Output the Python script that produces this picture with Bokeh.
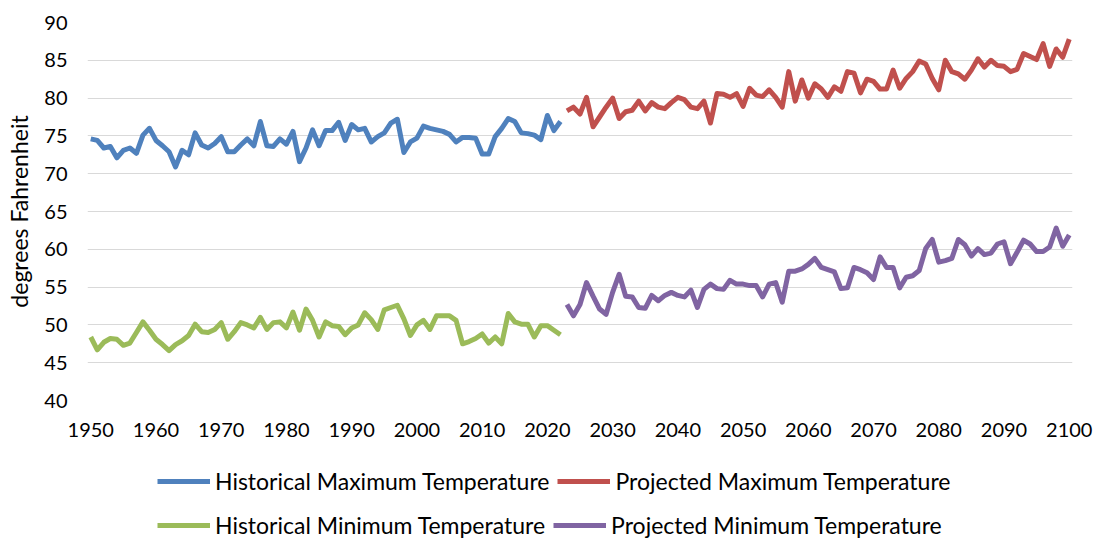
from bokeh.plotting import figure
from bokeh.models import Legend, LegendItem, FixedTicker, Range1d
from bokeh.layouts import column
from bokeh.embed import file_html
from bokeh.resources import INLINE

FONT = "Lato"
TICK_FS = "20px"
TEXT_FS = "23px"

years_hist = list(range(1950, 2023))
years_proj = list(range(2023, 2101))

hist_max = [
    74.6, 74.4, 73.4, 73.6, 72.1, 73.1, 73.4, 72.7, 75.1, 76.0,
    74.4, 73.7, 72.9, 70.9, 73.1, 72.5, 75.4, 73.8, 73.4, 74.0,
    74.9, 72.9, 72.9, 73.8, 74.6, 73.7, 76.9, 73.7, 73.6, 74.6,
    73.9, 75.6, 71.6, 73.4, 75.8, 73.7, 75.7, 75.7, 76.8, 74.4,
    76.5, 75.8, 76.0, 74.2, 74.9, 75.4, 76.7, 77.2, 72.8, 74.2,
    74.7, 76.3, 76.0, 75.8, 75.6, 75.2, 74.2, 74.8, 74.8, 74.7,
    72.6, 72.6, 74.9, 76.0, 77.3, 76.9, 75.4, 75.3, 75.1, 74.5,
    77.7, 75.7, 76.9,
]

hist_min = [
    48.4, 46.7, 47.7, 48.2, 48.1, 47.3, 47.6, 49.0, 50.4, 49.3,
    48.1, 47.4, 46.6, 47.4, 47.9, 48.6, 50.1, 49.1, 49.0, 49.4,
    50.3, 48.1, 49.1, 50.3, 50.0, 49.6, 51.0, 49.4, 50.3, 50.4,
    49.6, 51.7, 49.3, 52.1, 50.6, 48.4, 50.4, 49.9, 49.8, 48.7,
    49.6, 50.0, 51.6, 50.7, 49.4, 52.0, 52.3, 52.6, 50.8, 48.6,
    50.0, 50.6, 49.4, 51.2, 51.2, 51.2, 50.6, 47.5, 47.8, 48.2,
    48.8, 47.6, 48.4, 47.5, 51.5, 50.4, 50.1, 50.1, 48.4, 49.9,
    49.9, 49.3, 48.7,
]

proj_max = [
    78.3, 78.8, 77.9, 80.1, 76.2, 77.5, 78.8,
    80.0, 77.3, 78.2, 78.4, 79.6, 78.3, 79.4, 78.8, 78.6, 79.4,
    80.1, 79.8, 78.8, 78.6, 79.6, 76.7, 80.6, 80.5, 80.1, 80.6,
    78.9, 81.3, 80.4, 80.2, 81.1, 80.1, 78.8, 83.5, 79.6, 82.4,
    80.0, 81.9, 81.2, 80.1, 81.5, 80.9, 83.5, 83.3, 80.7, 82.5,
    82.2, 81.2, 81.2, 83.7, 81.3, 82.6, 83.5, 84.9, 84.5, 82.6,
    81.1, 85.0, 83.5, 83.2, 82.5, 83.7, 85.2, 84.1, 85.0, 84.3,
    84.2, 83.5, 83.8, 85.9, 85.5, 85.1, 87.2, 84.2, 86.5, 85.4,
    87.8,
]

proj_min = [
    52.7, 51.2, 52.7, 55.6, 53.8, 52.1, 51.4,
    54.3, 56.7, 53.8, 53.7, 52.3, 52.2, 53.9, 53.2, 53.9, 54.3,
    53.9, 53.7, 54.6, 52.3, 54.7, 55.4, 54.8, 54.7, 55.9, 55.4,
    55.4, 55.2, 55.2, 53.7, 55.4, 55.6, 53.0, 57.1, 57.1, 57.4,
    58.0, 58.8, 57.6, 57.3, 57.0, 54.8, 54.9, 57.6, 57.3, 56.9,
    56.0, 59.0, 57.6, 57.6, 54.9, 56.3, 56.5, 57.2, 60.1, 61.3,
    58.3, 58.5, 58.8, 61.3, 60.6, 59.1, 60.1, 59.3, 59.5, 60.7,
    61.0, 58.1, 59.6, 61.2, 60.7, 59.7, 59.7, 60.3, 62.8, 60.4,
    61.9,
]

x_ticks = list(range(1950, 2101, 10))
y_ticks = list(range(40, 91, 5))

series_names = [
    "Historical Maximum Temperature",
    "Projected Maximum Temperature",
    "Historical Minimum Temperature",
    "Projected Minimum Temperature",
]
colors = ["#4F81BD", "#C0504D", "#9BBB59", "#8064A2"]
LW = 5

# ---------------- main chart ----------------
p = figure(width=1099, height=450, output_backend="svg", toolbar_location=None,
           x_range=Range1d(1949.5, 2100.5), y_range=Range1d(40, 90),
           min_border_left=87, min_border_right=27, min_border_top=22,
           min_border_bottom=50)
p.outline_line_color = None

p.line(years_hist, hist_max, line_color=colors[0], line_width=LW, line_join="round")
p.line(years_proj, proj_max, line_color=colors[1], line_width=LW, line_join="round")
p.line(years_hist, hist_min, line_color=colors[2], line_width=LW, line_join="round")
p.line(years_proj, proj_min, line_color=colors[3], line_width=LW, line_join="round")

p.xgrid.grid_line_color = None
p.ygrid.grid_line_color = "#D9D9D9"
p.ygrid.grid_line_width = 1.2
p.ygrid.ticker = FixedTicker(ticks=y_ticks)

for ax in (p.xaxis[0], p.yaxis[0]):
    ax.axis_line_color = None
    ax.major_tick_line_color = None
    ax.minor_tick_line_color = None
    ax.major_tick_out = 0
    ax.major_tick_in = 0
    ax.major_label_text_font = FONT
    ax.major_label_text_font_size = TICK_FS
    ax.major_label_text_color = "black"

p.xaxis[0].ticker = FixedTicker(ticks=x_ticks)
p.xaxis[0].major_label_standoff = 22
p.yaxis[0].ticker = FixedTicker(ticks=y_ticks)
p.yaxis[0].major_label_standoff = 20
p.yaxis[0].axis_label = "degrees Fahrenheit"
p.yaxis[0].axis_label_text_font = FONT
p.yaxis[0].axis_label_text_font_size = TEXT_FS
p.yaxis[0].axis_label_text_font_style = "normal"
p.yaxis[0].axis_label_text_color = "black"
p.yaxis[0].axis_label_standoff = 8

# ---------------- legend strip (keys only; nothing in view) ----------------
q = figure(width=1099, height=90, output_backend="svg", toolbar_location=None,
           x_range=Range1d(0, 1), y_range=Range1d(0, 1),
           x_axis_type=None, y_axis_type=None,
           min_border_left=0, min_border_right=0, min_border_top=0, min_border_bottom=0)
q.outline_line_color = None
q.xgrid.visible = False
q.ygrid.visible = False

key_src = [(years_hist, hist_max), (years_proj, proj_max),
           (years_hist, hist_min), (years_proj, proj_min)]
keys = [q.line(xs[:1], ys[:1], line_color=c, line_width=LW)
        for (xs, ys), c in zip(key_src, colors)]

def make_legend(items, vy):
    return Legend(items=items, orientation="horizontal", location=(70, vy),
                  label_text_font=FONT, label_text_font_size=TEXT_FS, label_text_color="black",
                  glyph_width=53, glyph_height=24, label_height=24, label_standoff=5,
                  spacing=8, padding=0, margin=0,
                  border_line_color=None, background_fill_alpha=0)

leg1 = make_legend([LegendItem(label=series_names[0], renderers=[keys[0]]),
                    LegendItem(label=series_names[1], renderers=[keys[1]])], 45)
leg2 = make_legend([LegendItem(label=series_names[2], renderers=[keys[2]]),
                    LegendItem(label=series_names[3], renderers=[keys[3]])], 1)
q.add_layout(leg1, "center")
q.add_layout(leg2, "center")

layout = column(p, q, spacing=0)
open("out.html", "w").write(file_html(layout, INLINE))
